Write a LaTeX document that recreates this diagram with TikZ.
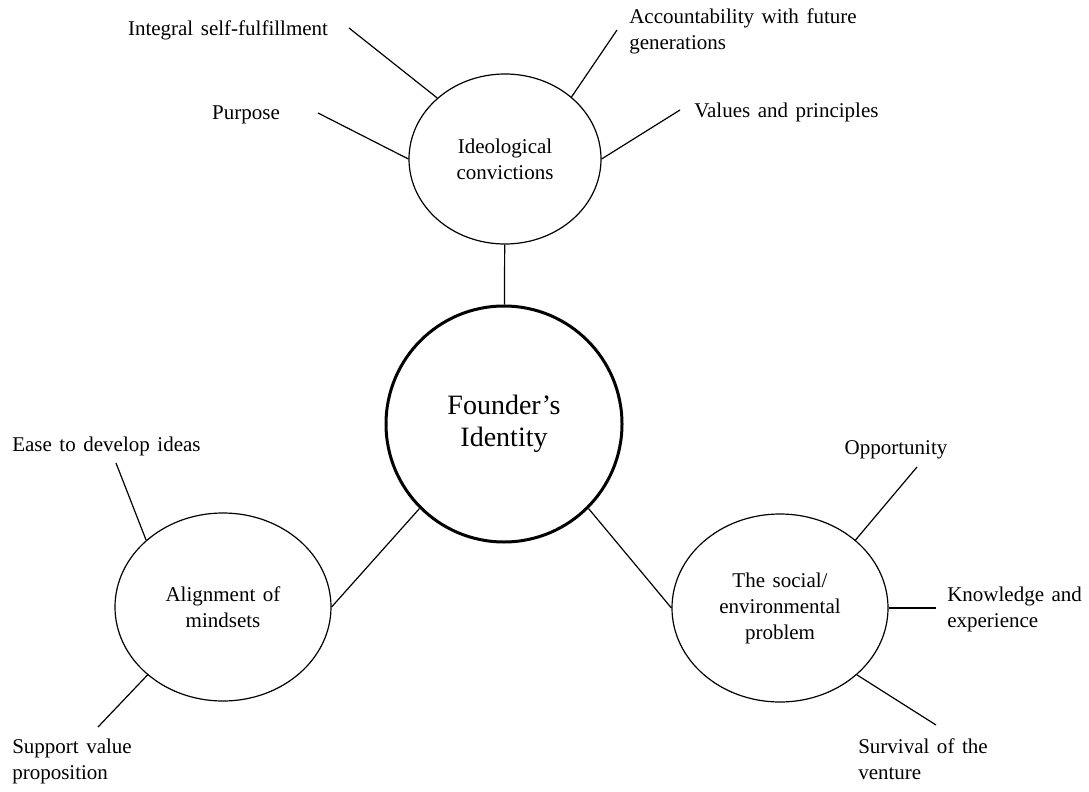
\documentclass[tikz,border=0pt]{standalone}
\usepackage{fontspec}
\setmainfont{Liberation Serif}
\usetikzlibrary{shapes.geometric}

\newcommand{\lblfont}{\fontsize{15.75}{19.5}\selectfont\spaceskip=0.36em\relax}

\begin{document}
\begin{tikzpicture}[x=0.75pt, y=-0.75pt,
    bubble/.style={draw, ellipse, line width=0.9pt, inner sep=0pt, align=center, font=\lblfont},
    lbl/.style={inner sep=0pt, align=left, font=\lblfont},
    spoke/.style={line width=0.9pt}]
      \useasboundingbox (0,0) rectangle (1089,792);

      % centre
      \node[draw, circle, line width=2.25pt, minimum size=177pt, inner sep=0pt, align=center,
        font=\fontsize{21}{24}\selectfont] (founder) at (504,424) {Founder’s\\Identity};

      \node[bubble, minimum width=144pt, minimum height=127.5pt] (ideo) at (505,159) {Ideological\\convictions};
      \node[bubble, minimum width=162pt, minimum height=141pt] (align) at (223,607) {Alignment of\\mindsets};
      \node[bubble, minimum width=162pt, minimum height=141pt] (social) at (780,608) {The social/\\environmental\\problem};

      \draw[spoke] (ideo) -- (founder);
      \draw[spoke] (founder.225) -- (align.east);
      \draw[spoke] (founder.-45) -- (social.west);

      % ideological convictions
      \node[lbl] (integral) at (228,30) {Integral self-fulfillment};
      \node[lbl, anchor=west] (account) at (629,31) {Accountability with future\\generations};
      \node[lbl] (purpose) at (246,115) {Purpose};
      \node[lbl, anchor=west] (values) at (694,112) {Values and principles};
      \coordinate (integral-end) at (349,28);
      \coordinate (account-end) at (617,30);
      \coordinate (purpose-end) at (318,113);
      \coordinate (values-end) at (680,110);
      \draw[spoke] (ideo.138) -- (integral-end);
      \draw[spoke] (ideo.43) -- (account-end);
      \draw[spoke] (ideo.west) -- (purpose-end);
      \draw[spoke] (ideo.east) -- (values-end);

      % alignment of mindsets
      \node[lbl, anchor=west] (ease) at (12,446) {Ease to develop ideas};
      \node[lbl, anchor=west] (support) at (12,761) {Support value\\proposition};
      \coordinate (ease-end) at (116,463);
      \coordinate (support-end) at (98,727);
      \draw[spoke] (align.139) -- (ease-end);
      \draw[spoke] (align.222) -- (support-end);

      % social/environmental problem
      \node[lbl] (opport) at (896,450) {Opportunity};
      \node[lbl, anchor=west] (knowl) at (947,609) {Knowledge and\\experience};
      \node[lbl, anchor=west] (survival) at (858,759) {Survival of the\\venture};
      \coordinate (opport-end) at (917,467);
      \coordinate (knowl-end) at (936,608);
      \coordinate (survival-end) at (936,725);
      \draw[spoke] (social.42) -- (opport-end);
      \draw[spoke] (social.east) -- (knowl-end);
      \draw[spoke] (social.-41) -- (survival-end);

\end{tikzpicture}
\end{document}
